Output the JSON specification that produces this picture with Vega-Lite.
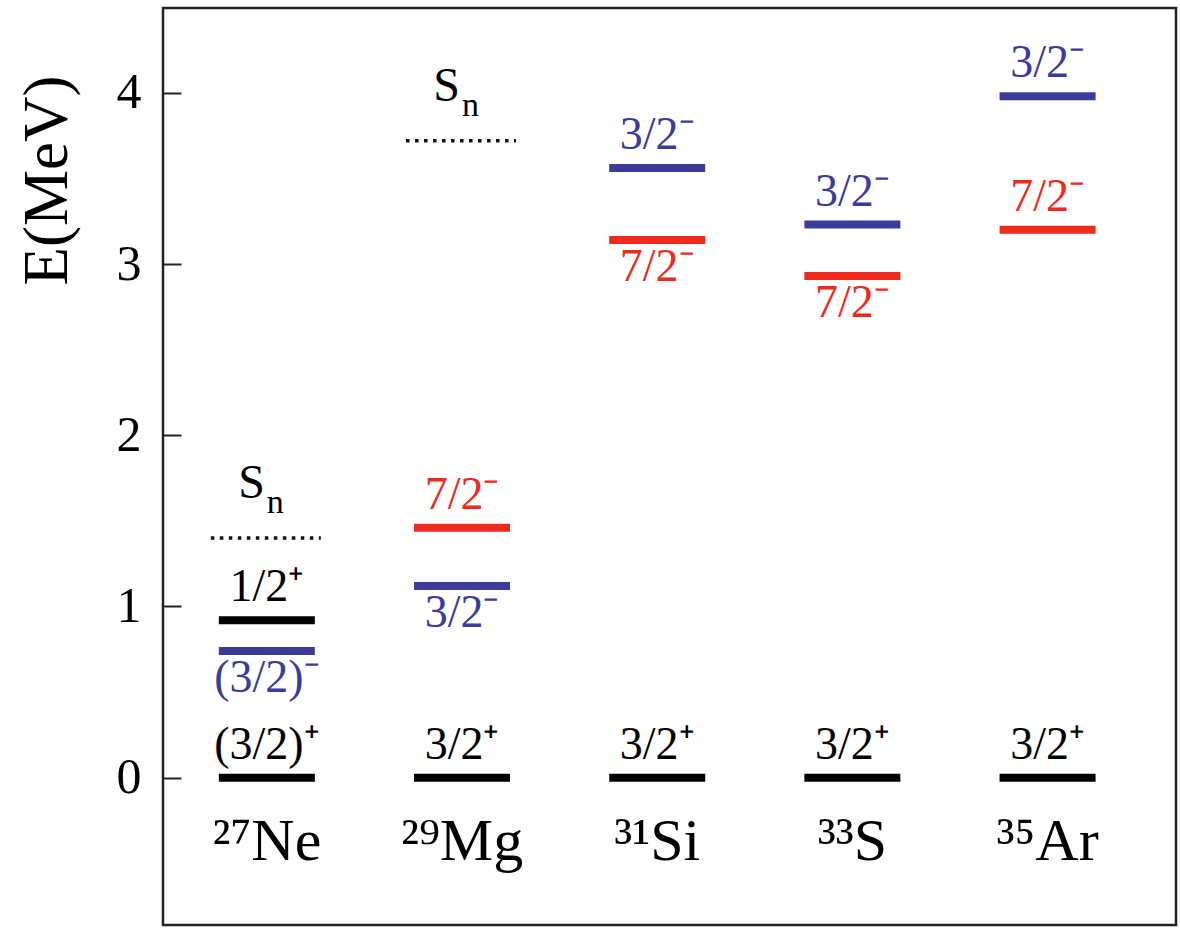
{
  "$schema": "https://vega.github.io/schema/vega-lite/v6.json",
  "width": 1013,
  "height": 917,
  "autosize": "none",
  "padding": {"left": 163, "top": 8, "right": 4, "bottom": 3},
  "background": "white",
  "config": {
    "view": {"stroke": "#222222", "strokeWidth": 2.5},
    "font": "Liberation Serif",
    "text": {"font": "Liberation Serif"}
  },
  "datasets": {
    "levels": [
      {"nucleus": "²⁷Ne", "idx": 1, "E": 0, "jpi": "(3/2)⁺", "orbital": "sd", "side": "above"},
      {"nucleus": "²⁷Ne", "idx": 1, "E": 0.74, "jpi": "(3/2)⁻", "orbital": "p3/2", "side": "below"},
      {"nucleus": "²⁷Ne", "idx": 1, "E": 0.92, "jpi": "1/2⁺", "orbital": "sd", "side": "above"},
      {"nucleus": "²⁹Mg", "idx": 2, "E": 0, "jpi": "3/2⁺", "orbital": "sd", "side": "above"},
      {"nucleus": "²⁹Mg", "idx": 2, "E": 1.12, "jpi": "3/2⁻", "orbital": "p3/2", "side": "below"},
      {"nucleus": "²⁹Mg", "idx": 2, "E": 1.46, "jpi": "7/2⁻", "orbital": "f7/2", "side": "above"},
      {"nucleus": "³¹Si", "idx": 3, "E": 0, "jpi": "3/2⁺", "orbital": "sd", "side": "above"},
      {"nucleus": "³¹Si", "idx": 3, "E": 3.14, "jpi": "7/2⁻", "orbital": "f7/2", "side": "below"},
      {"nucleus": "³¹Si", "idx": 3, "E": 3.56, "jpi": "3/2⁻", "orbital": "p3/2", "side": "above"},
      {"nucleus": "³³S", "idx": 4, "E": 0, "jpi": "3/2⁺", "orbital": "sd", "side": "above"},
      {"nucleus": "³³S", "idx": 4, "E": 2.93, "jpi": "7/2⁻", "orbital": "f7/2", "side": "below"},
      {"nucleus": "³³S", "idx": 4, "E": 3.23, "jpi": "3/2⁻", "orbital": "p3/2", "side": "above"},
      {"nucleus": "³⁵Ar", "idx": 5, "E": 0, "jpi": "3/2⁺", "orbital": "sd", "side": "above"},
      {"nucleus": "³⁵Ar", "idx": 5, "E": 3.20, "jpi": "7/2⁻", "orbital": "f7/2", "side": "above"},
      {"nucleus": "³⁵Ar", "idx": 5, "E": 3.98, "jpi": "3/2⁻", "orbital": "p3/2", "side": "above"}
    ],
    "separation": [
      {"nucleus": "²⁷Ne", "idx": 1, "E": 1.40},
      {"nucleus": "²⁹Mg", "idx": 2, "E": 3.72}
    ]
  },
  "encoding": {
    "x": {"field": "idx", "type": "quantitative", "scale": {"domain": [0.468, 5.658], "nice": false, "zero": false}, "axis": null},
    "y": {
      "field": "E",
      "type": "quantitative",
      "scale": {"domain": [-0.86, 4.495], "nice": false, "zero": false},
      "axis": {
        "values": [0, 1, 2, 3, 4],
        "domain": false,
        "grid": false,
        "tickSize": -18,
        "tickWidth": 2,
        "tickColor": "#222222",
        "labelFont": "Liberation Serif",
        "labelFontSize": 50,
        "labelColor": "black",
        "labelPadding": 40,
        "title": "E(MeV)",
        "titleFont": "Liberation Serif",
        "titleFontSize": 63,
        "titleFontWeight": "normal",
        "titleColor": "black",
        "titleX": -116,
        "titleY": 172,
        "titleAlign": "center",
        "titleBaseline": "middle"
      }
    }
  },
  "layer": [
    {
      "data": {"name": "levels"},
      "mark": {"type": "rule", "strokeWidth": 8, "strokeCap": "butt", "xOffset": -48, "x2Offset": 48},
      "encoding": {
        "x2": {"field": "idx"},
        "color": {"field": "orbital", "type": "nominal", "scale": {"domain": ["sd", "p3/2", "f7/2"], "range": ["#000000", "#3a3c9c", "#ee2a1c"]}, "legend": null}
      }
    },
    {
      "data": {"name": "separation"},
      "mark": {"type": "rule", "strokeWidth": 3.5, "strokeDash": [3.5, 5.5], "strokeCap": "butt", "color": "#111111", "xOffset": -56, "x2Offset": 54},
      "encoding": {"x2": {"field": "idx"}}
    },
    {
      "data": {"name": "levels"},
      "transform": [{"filter": "datum.side == 'above'"}],
      "mark": {"type": "text", "fontSize": 46, "baseline": "alphabetic", "align": "center", "dy": -19},
      "encoding": {
        "text": {"field": "jpi"},
        "color": {"field": "orbital", "type": "nominal", "legend": null}
      }
    },
    {
      "data": {"name": "levels"},
      "transform": [{"filter": "datum.side == 'below'"}],
      "mark": {"type": "text", "fontSize": 46, "baseline": "alphabetic", "align": "center", "dy": 41},
      "encoding": {
        "text": {"field": "jpi"},
        "color": {"field": "orbital", "type": "nominal", "legend": null}
      }
    },
    {
      "data": {"name": "levels"},
      "transform": [{"filter": "datum.E == 0"}],
      "mark": {"type": "text", "fontSize": 60, "baseline": "alphabetic", "align": "center", "dy": 82, "color": "black"},
      "encoding": {"text": {"field": "nucleus"}}
    },
    {
      "data": {"name": "separation"},
      "mark": {"type": "text", "fontSize": 48, "baseline": "alphabetic", "align": "right", "dx": -2, "dy": -40, "color": "black"},
      "encoding": {"text": {"value": "S"}}
    },
    {
      "data": {"name": "separation"},
      "mark": {"type": "text", "fontSize": 34, "baseline": "alphabetic", "align": "left", "dx": 0, "dy": -25, "color": "black"},
      "encoding": {"text": {"value": "n"}}
    }
  ]
}
